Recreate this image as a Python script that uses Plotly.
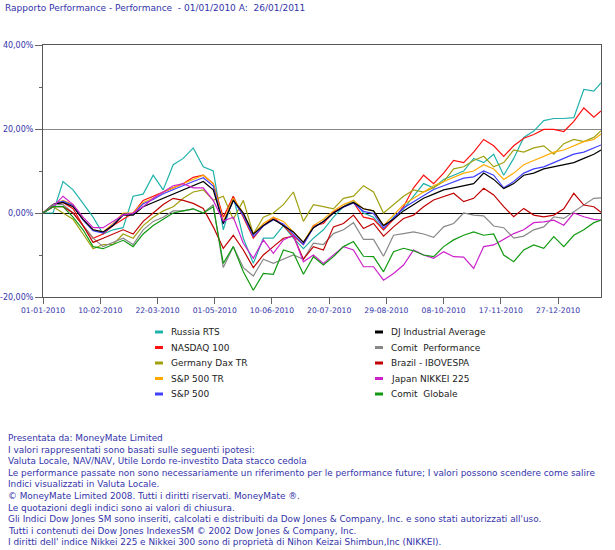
import pandas as pd
import plotly.graph_objects as go

# ---- data -------------------------------------------------------------
days = list(range(0, 386, 7)) + [390]
dates = [pd.Timestamp("2010-01-01") + pd.Timedelta(days=d) for d in days]

names = ["Russia RTS", "NASDAQ 100", "Germany Dax TR", "S&P 500 TR", "S&P 500",
         "DJ Industrial Average", "Comit  Performance", "Brazil - IBOVESPA",
         "Japan NIKKEI 225", "Comit  Globale"]
colors = ["#20b2aa", "#ff1010", "#a0a010", "#ffaa00", "#4040ff",
          "#000000", "#888888", "#c00000", "#cc22cc", "#119911"]

russia = [0, 0, 7.5, 5.5, 2.3, -1, -5, -4, -3.5, 4, 4.5, 9, 5.5, 11.5, 13, 15.5, 11, 10, -4, 4,
          -6, -12, -6, -6, -3, -6, -8.5, -6, -4, -1, 1.5, 3, 0, -1, -4, -1, 1, 4, 7, 6,
          8, 9, 10, 13, 12, 14, 9, 13, 18, 19.5, 22, 22.5, 22.5, 22.7, 29.4, 29, 31]
nasdaq = [0, 2, 2.5, 1, -3, -6, -5, -3, -1.5, 0, 3, 4, 5, 6, 7, 8.5, 9, 7, -1, 4,
          -1, -6, -3, -1, -3, -5.5, -7.5, -3, -2.5, 0.3, 1.5, 2.5, -1, -1.5, -4, -1.5, 1.5, 6, 9, 7,
          9.5, 12.5, 12, 14.5, 17.5, 16, 13.5, 16, 17.8, 18.7, 19.9, 19.9, 19.4, 21.8, 25, 22.8, 24.3]
dax = [0, 1.5, 0, -1.5, -5, -8.5, -7.5, -7.5, -5, -6, -3, -1, 0.5, 1.5, 3.5, 5, 5.5, 3, 4, -1.5,
       3, -5, -1, 0, 2, 5, -2, 2, 1.5, 1, 3.5, 4, 6.5, 5, 0, 2, 4, 5.5, 5, 6,
       7.5, 10.5, 11, 12.5, 13.5, 11, 12, 15, 14.5, 15.5, 16, 14, 16.5, 17.5, 17, 18, 19.6]
sp_tr = [0, 2, 3, 2, -1.5, -4, -4.5, -2.5, 0, 0, 2.5, 3.5, 5, 6, 7, 8, 9, 7, -2, 3.5,
         0, -5, -2.5, -1, -2, -4.5, -7, -3, -1.5, 0.5, 2, 3, 1, 0.5, -3, -0.5, 2, 3.5, 5, 6.5,
         7.5, 8.5, 9.5, 10, 11.5, 10.5, 8, 9.5, 11.5, 12.5, 13.5, 14.5, 15, 16, 17, 17.5, 18.8]
sp500 = [0, 2, 2.8, 1.8, -1.7, -4.2, -4.8, -2.8, -0.3, -0.3, 2.2, 3.2, 4.6, 5.6, 6.5, 7.5, 8.4, 6.4, -2.6, 3,
         -0.6, -5.6, -3.1, -1.6, -2.6, -5, -7.5, -3.5, -2, 0, 1.4, 2.4, 0.4, -0.1, -3.6, -1.2, 1.2, 2.7, 4.2, 5.6,
         6.5, 7.4, 8.3, 8.6, 10, 9, 6, 7.5, 9.5, 10.5, 11, 12, 13, 14, 14.5, 15.5, 16.2]
dj = [0, 2, 2.5, 1.5, -1.5, -4, -4.5, -3, -0.5, -0.5, 1.5, 2.5, 3.5, 4.5, 5.5, 6.5, 7.5, 5.5, -2.5, 3,
      0, -5, -3, -1.5, -3, -4.5, -7, -3.5, -2, 0, 1.5, 2.5, 1, 0.5, -3, -1.5, 0.5, 2, 3.5, 4.5,
      5.5, 6, 6.5, 7, 9.5, 8, 5.8, 7, 9, 9.5, 10.5, 11, 11.5, 12, 13, 14, 15]
comit_perf = [0, 2, 2, 0, -3, -6, -8, -7, -6, -7.5, -4, -2, -1, 0.5, 0.5, 1, 0, 2, -13, -8,
              -13, -15, -11, -12, -11, -10, -11, -7.2, -7.5, -4.9, -4, -2.3, -6.3, -6.3, -10.3, -5.3, -4.9, -4.5, -5, -5.8,
              -3.3, -2.5, 0, -0.5, -0.7, -3.1, -3.5, -6, -5.5, -4, -3.3, -0.9, -1.3, 0.3, 2, 3.5, 3.6]
brazil = [0, 1.5, 1.5, 0, -3, -7, -6, -5, -4, -5, -2, 0, 2, 3.5, 3, 2.3, 1.1, -3.3, -8.4, -5.3,
          -8.8, -13, -10, -8, -6, -5.5, -11, -8, -8.8, -3.3, -2.5, -0.5, -3.7, -2.5, -5.5, -3.3, -1.3, -0.5, 1.5, 3.1,
          3.9, 4.7, 2.7, 3.5, 5.9, 4.3, 1.5, -0.9, 1.1, -0.5, -0.9, -0.5, 1, 4.7, 1.9, 1.5, 0.2]
japan = [0, 1.5, 4, 2, -1, -3.5, -3.5, -2, -0.5, 0, 1.5, 3.5, 5, 6.5, 7, 6, 6, 3, -1.9, -1,
         -7.2, -10.8, -6.4, -9.6, -6.4, -5.3, -11.6, -10, -12, -10, -8, -8.8, -12.8, -12.8, -16, -14.4, -12.4, -8.8, -10, -10.8,
         -9.2, -10.4, -10.5, -13.2, -8, -7.6, -6.3, -4.9, -4, -2.3, -2.1, -1.7, -2.9, 0, -0.9, -1.5, -1.7]
comit_glob = [0, 1.5, 1.5, -1, -4, -8, -8.5, -7.5, -6.5, -8, -5, -3, -1.5, 0, 0.5, 1, 0, 1.5, -12, -8,
              -14, -18.4, -14.4, -14.6, -8.8, -9.5, -14.6, -10.4, -12.4, -10.4, -8, -6.8, -10.3, -10.4, -14, -9.2, -8.4, -9, -10, -10.4,
              -8, -6.4, -5.3, -4.5, -5.3, -5, -10, -11.6, -8.8, -7.6, -8.4, -5.6, -8, -5.3, -4, -2.3, -1.7]

series = [russia, nasdaq, dax, sp_tr, sp500, dj, comit_perf, brazil, japan, comit_glob]

tick_dates = ["2010-01-01", "2010-02-10", "2010-03-22", "2010-05-01", "2010-06-10",
              "2010-07-20", "2010-08-29", "2010-10-08", "2010-11-17", "2010-12-27"]
y_ticks = [-20, 0, 20, 40]
y_labels = ["-20,00%", "0,00%", "20,00%", "40,00%"]

title_text = "Rapporto Performance - Performance  - 01/01/2010 A:  26/01/2011"
footer_lines = [
    "Presentata da: MoneyMate Limited",
    "I valori rappresentati sono basati sulle seguenti ipotesi:",
    "Valuta Locale, NAV/NAV, Utile Lordo re-investito Data stacco cedola",
    "Le performance passate non sono necessariamente un riferimento per le performance future; I valori possono scendere come salire",
    "Indici visualizzati in Valuta Locale.",
    "\u00a9 MoneyMate Limited 2008. Tutti i diritti riservati. MoneyMate \u00ae.",
    "Le quotazioni degli indici sono ai valori di chiusura.",
    "Gli Indici Dow Jones SM sono inseriti, calcolati e distribuiti da Dow Jones & Company, Inc. e sono stati autorizzati all'uso.",
    "Tutti i contenuti dei Dow Jones IndexesSM \u00a9 2002 Dow Jones & Company, Inc.",
    "I diritti dell' indice Nikkei 225 e Nikkei 300 sono di propriet\u00e0 di Nihon Keizai Shimbun,Inc (NIKKEI).",
]

# ---- figure -----------------------------------------------------------
W, H = 615, 550
ML, MR, MT, MB = 43, 14, 45, 253
TXT = "#3333aa"
FONT = "DejaVu Sans"

fig = go.Figure()
for name, col, vals in zip(names, colors, series):
    fig.add_trace(go.Scatter(x=dates, y=vals, mode="lines", name=name,
                             line=dict(color=col, width=1.2), showlegend=False))

fig.update_layout(
    width=W, height=H, margin=dict(l=ML, r=MR, t=MT, b=MB, autoexpand=False),
    paper_bgcolor="white", plot_bgcolor="white",
    font=dict(family=FONT, size=8, color=TXT),
    xaxis=dict(type="date", range=["2010-01-01", "2011-01-26"], automargin=False,
               tickvals=tick_dates, tickformat="%d-%m-%Y",
               ticks="outside", ticklen=6, tickcolor="#666",
               showline=True, linecolor="#555", linewidth=1, mirror=True,
               showgrid=False, zeroline=False, tickfont=dict(size=7.6, color=TXT)),
    yaxis=dict(range=[-20, 40], tickvals=y_ticks, ticktext=y_labels, automargin=False,
               ticks="outside", ticklen=7, tickcolor="#666",
               minor=dict(ticks="outside", ticklen=3, dtick=10, tick0=0, tickcolor="#666", showgrid=False),
               showline=True, linecolor="#555", linewidth=1, mirror=True,
               showgrid=True, gridcolor="#888", gridwidth=1,
               zeroline=True, zerolinecolor="#000", zerolinewidth=1.3,
               tickfont=dict(size=8, color=TXT)),
)

pw = W - ML - MR
ph = H - MT - MB
def px_x(x):
    return (x - ML) / pw
def px_y(y):
    return 1 - (y - MT) / ph

# title
fig.add_annotation(text=title_text, xref="paper", yref="paper",
                   x=px_x(3), y=px_y(8), xanchor="left", yanchor="middle", showarrow=False,
                   font=dict(family=FONT, size=9, color=TXT))

# manual legend (two columns)
leg_cols = [155, 375]
leg_rows = [332, 347.5, 363, 378.5, 394]
for i, (name, col) in enumerate(zip(names, colors)):
    cx = leg_cols[i // 5]
    cy = leg_rows[i % 5]
    fig.add_shape(type="line", xref="paper", yref="paper",
                  x0=px_x(cx), x1=px_x(cx + 8), y0=px_y(cy), y1=px_y(cy),
                  line=dict(color=col, width=3))
    fig.add_annotation(text=name, xref="paper", yref="paper",
                       x=px_x(cx + 14), y=px_y(cy), xanchor="left", yanchor="middle",
                       showarrow=False, font=dict(family=FONT, size=9, color="#222"))

# footer
for j, line in enumerate(footer_lines):
    fig.add_annotation(text=line, xref="paper", yref="paper",
                       x=px_x(6), y=px_y(438 + j * 11.6), xanchor="left", yanchor="middle",
                       showarrow=False, font=dict(family=FONT, size=8.9, color=TXT))

fig.write_html("out.html", config={"displayModeBar": False},
               post_script="document.body.style.margin='0px';document.body.style.overflow='hidden';")
